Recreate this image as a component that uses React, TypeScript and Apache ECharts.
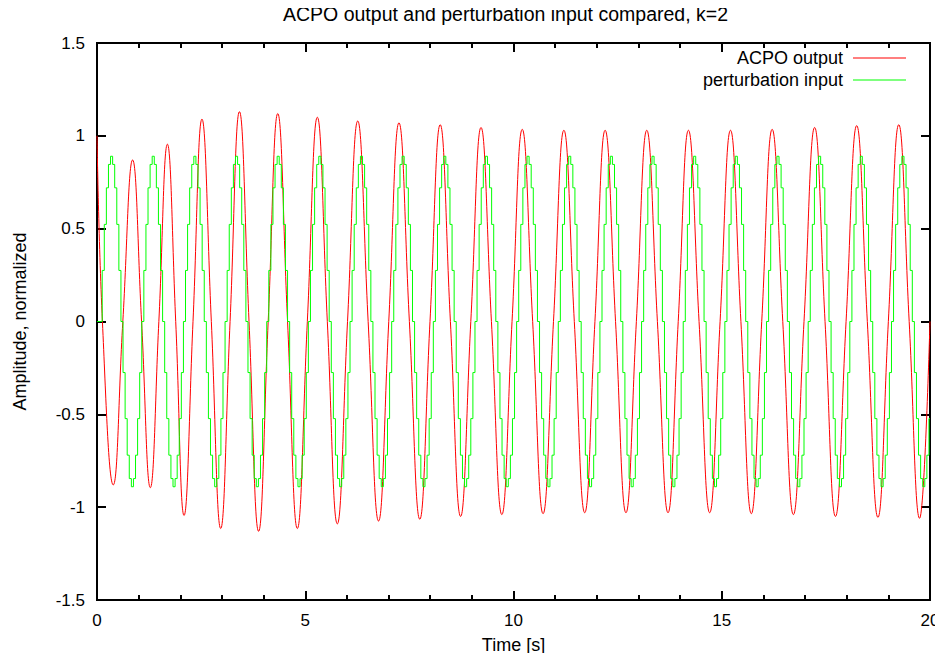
import React, { useEffect, useRef } from "react";
import * as echarts from "echarts";

// ---- Tick values ----
const xTicks = [0, 5, 10, 15, 20];
const yTicks = [-1.5, -1, -0.5, 0, 0.5, 1, 1.5];

// ---- ACPO output (red): extrema ----
const redExtremaT = [
  0, 0.39, 0.855, 1.28, 1.69, 2.09, 2.52, 2.97, 3.42, 3.88, 4.34, 4.81, 5.29, 5.77,
  6.26, 6.76, 7.25, 7.75, 8.24, 8.73, 9.22, 9.72, 10.21, 10.71, 11.21, 11.71, 12.2,
  12.7, 13.2, 13.71, 14.2, 14.71, 15.21, 15.71, 16.21, 16.72, 17.23, 17.73, 18.24,
  18.75, 19.25, 19.75,
];
const redExtremaV = [
  1.0, -0.88, 0.87, -0.895, 0.955, -1.045, 1.09, -1.115, 1.13, -1.13, 1.12, -1.115,
  1.1, -1.09, 1.08, -1.075, 1.07, -1.065, 1.06, -1.05, 1.045, -1.04, 1.035, -1.035,
  1.03, -1.03, 1.03, -1.03, 1.03, -1.03, 1.03, -1.03, 1.03, -1.035, 1.035, -1.04,
  1.045, -1.05, 1.055, -1.055, 1.06, -1.06,
];
// zero crossings of the red curve
const redZeroT = [
  0.13, 0.62, 1.07, 1.485, 1.89, 2.305, 2.745, 3.195, 3.65, 4.11, 4.575, 5.05, 5.53,
  6.015, 6.51, 7.005, 7.5, 7.995, 8.485, 8.975, 9.47, 9.965, 10.46, 10.96, 11.46,
  11.955, 12.45, 12.95, 13.455, 13.955, 14.455, 14.96, 15.46, 15.96, 16.465, 16.975,
  17.48, 17.985, 18.495, 19.0, 19.5, 20.0,
];

// ---- perturbation input (green): one sampled cycle of the staircase ----
const greenStart = 0.075; // time of the first rising step (s)
const greenPeriod = 1.0; // s
const greenStep = 0.05; // s, sample hold time
const greenCycle = [
  0, 0.275, 0.523, 0.72, 0.846, 0.89, 0.846, 0.72, 0.523, 0.275, 0, -0.275, -0.523,
  -0.72, -0.846, -0.89, -0.846, -0.72, -0.523, -0.275,
];

const buildRed = () => {
  const pts: [number, number][] = [];
  redExtremaT.forEach((t, i) => pts.push([t, redExtremaV[i]]));
  redZeroT.forEach((t) => pts.push([t, 0]));
  pts.sort((a, b) => a[0] - b[0]);
  return pts;
};

const buildGreen = () => {
  const pts: [number, number][] = [[0, 0]];
  let last = 0;
  for (let c = 0; c < 20; c++) {
    greenCycle.forEach((v, k) => {
      const t = +(greenStart + c * greenPeriod + k * greenStep).toFixed(4);
      if (t <= 20) {
        pts.push([t, v]);
        last = v;
      }
    });
  }
  pts.push([20, last]);
  return pts;
};

const FONT = "Liberation Sans";
const INK = "#000000";
const GRID = { left: 97, right: 13, top: 43, bottom: 61 };
const W = 943;
const H = 661;

export default function App() {
  const ref = useRef<HTMLDivElement>(null);
  useEffect(() => {
    if (!ref.current) return;
    const chart = echarts.init(ref.current, undefined, { renderer: "svg" });
    const line = () => ({ show: true, onZero: false, lineStyle: { color: INK, width: 2 } });
    const tick = () => ({ show: true, inside: true, length: 9, lineStyle: { color: INK, width: 2 } });
    const xAx = (position: "bottom" | "top", visible: boolean) => ({
      type: "value" as const,
      min: xTicks[0],
      max: xTicks[xTicks.length - 1],
      interval: xTicks[1] - xTicks[0],
      position,
      axisLine: line(),
      axisTick: tick(),
      minorTick: { show: true, splitNumber: 5, length: 5, lineStyle: { color: INK, width: 2 } },
      splitLine: { show: false },
      axisLabel: visible
        ? { show: true, color: INK, fontFamily: FONT, fontSize: 17, margin: 12 }
        : { show: false },
    });
    const yAx = (position: "left" | "right", visible: boolean) => ({
      type: "value" as const,
      min: yTicks[0],
      max: yTicks[yTicks.length - 1],
      interval: yTicks[1] - yTicks[0],
      position,
      axisLine: line(),
      axisTick: tick(),
      splitLine: { show: false },
      axisLabel: visible
        ? { show: true, color: INK, fontFamily: FONT, fontSize: 17, margin: 12 }
        : { show: false },
    });
    const legendCommon = {
      right: 37,
      align: "right" as const,
      padding: 0,
      icon: "rect",
      itemWidth: 53,
      itemHeight: 1,
      textStyle: { fontFamily: FONT, fontSize: 18, color: INK, padding: [0, 5, 0, 0] },
    };
    const plotW = W - GRID.left - GRID.right;
    const plotH = H - GRID.top - GRID.bottom;
    chart.setOption({
      animation: false,
      title: {
        text: "ACPO output and perturbation input compared, k=2",
        left: 283,
        top: 4,
        padding: 0,
        textStyle: { fontFamily: FONT, fontSize: 19.5, fontWeight: "normal", color: INK },
      },
      legend: [
        { ...legendCommon, data: ["ACPO output"], top: 49 },
        { ...legendCommon, data: ["perturbation input"], top: 71 },
      ],
      grid: {
        ...GRID,
        show: true,
        borderColor: INK,
        borderWidth: 2,
      },
      graphic: [
        {
          type: "text",
          silent: true,
          x: GRID.left + plotW / 2,
          y: 645,
          style: {
            text: "Time [s]",
            fontFamily: FONT,
            fontSize: 18,
            fill: INK,
            align: "center",
            verticalAlign: "middle",
          },
        },
        {
          type: "text",
          silent: true,
          x: 20,
          y: GRID.top + plotH / 2,
          rotation: Math.PI / 2,
          style: {
            text: "Amplitude, normalized",
            fontFamily: FONT,
            fontSize: 18,
            fill: INK,
            align: "center",
            verticalAlign: "middle",
          },
        },
      ],
      xAxis: [xAx("bottom", true), xAx("top", false)],
      yAxis: [yAx("left", true), yAx("right", false)],
      series: [
        {
          name: "ACPO output",
          type: "line",
          data: buildRed(),
          smooth: 0.45,
          symbol: "none",
          lineStyle: { color: "#ff0000", width: 1 },
          itemStyle: { color: "#ff0000" },
        },
        {
          name: "perturbation input",
          type: "line",
          data: buildGreen(),
          step: "end",
          symbol: "none",
          lineStyle: { color: "#00ff00", width: 1 },
          itemStyle: { color: "#00ff00" },
        },
      ],
    });
    return () => chart.dispose();
  }, []);
  return <div ref={ref} style={{ width: W, height: H, margin: -8 }} />;
}
